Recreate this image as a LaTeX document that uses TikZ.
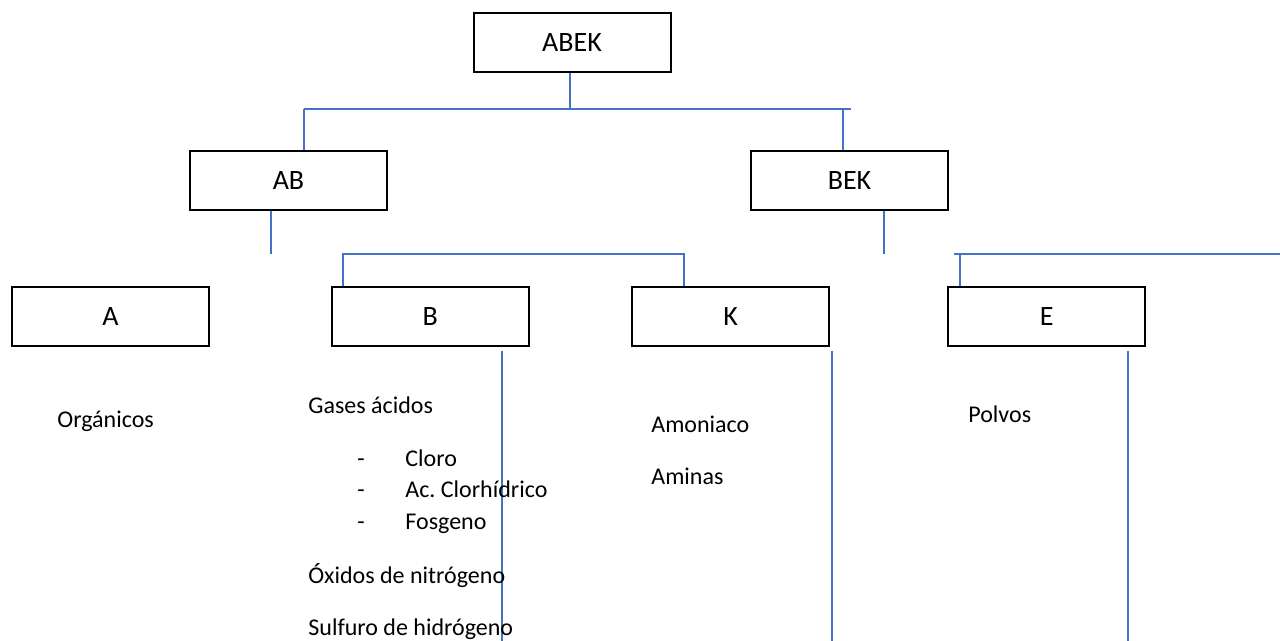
\documentclass[tikz,border=0pt]{standalone}
\usepackage{fontspec}
\setmainfont{Carlito}
\usetikzlibrary{positioning}
\definecolor{linkblue}{RGB}{68,114,196}

\begin{document}
\begin{tikzpicture}[x=0.5pt, y=-0.5pt,
    box/.style={draw, line width=1pt, minimum width=98.5pt, minimum height=29.6pt, inner sep=0pt, font=\fontsize{14}{16}\selectfont},
    link/.style={draw=linkblue, line width=0.6pt},
    lbl/.style={anchor=base west, inner sep=0pt, font=\fontsize{12}{14}\selectfont}]
    \useasboundingbox (0,0) rectangle (1280,641);
    \foreach \name/\x/\y in {ABEK/572/42.3, AB/288.5/180.7, BEK/849.5/180.7, A/110.5/316.3, B/430.2/316.3, K/730.7/316.3, E/1046.8/316.3} {
        \node[box] (\name) at (\x,\y) {\name};
    }
    \coordinate (hub) at (570,109);
    \coordinate (hubL) at (304,109);
    \coordinate (hubR) at (851,109);
    \coordinate (hubBEK) at (843,109);
    \draw[link] (hub |- ABEK.south) -- (hub);
    \draw[link] (hubL) -- (hubR);
    \draw[link] (hubL) -- (hubL |- AB.north);
    \draw[link] (hubBEK) -- (hubBEK |- BEK.north);
    \coordinate (abEnd) at (271,254);
    \coordinate (bekEnd) at (884,254);
    \draw[link] (abEnd |- AB.south) -- (abEnd);
    \draw[link] (bekEnd |- BEK.south) -- (bekEnd);
    \coordinate (bk1) at (343,254);
    \coordinate (bk2) at (684,254);
    \draw[link] (bk1 |- B.north) -- (bk1) -- (bk2) -- (bk2 |- K.north);
    \coordinate (e0) at (954,254);
    \coordinate (e1) at (960,254);
    \coordinate (eR) at (1280,254);
    \draw[link] (e0) -- (eR);
    \draw[link] (e1) -- (e1 |- E.north);
    \foreach \name/\x in {B/502, K/832, E/1128} {
        \coordinate (\name-top) at (\x,351);
        \coordinate (\name-end) at (\x,641);
        \draw[link] (\name-top) -- (\name-end);
    }
    \node[lbl] (org) at (57,428) {Orgánicos};
    \node[lbl] (gas) at (308,414) {Gases ácidos};
    \foreach \name/\y/\txt in {cl/467/Cloro, hcl/498/Ac.\ Clorhídrico, fos/530/Fosgeno} {
        \node[lbl] (\name-dash) at (357,\y) {-};
        \node[lbl] (\name) at (405,\y) {\txt};
    }
    \node[lbl] (nox) at (308,583) {Óxidos de nitrógeno};
    \node[lbl] (h2s) at (308,635.5) {Sulfuro de hidrógeno};
    \node[lbl] (nh3) at (651,433) {Amoniaco};
    \node[lbl] (amin) at (651,485) {Aminas};
    \node[lbl] (polvo) at (968,423) {Polvos};
\end{tikzpicture}
\end{document}
